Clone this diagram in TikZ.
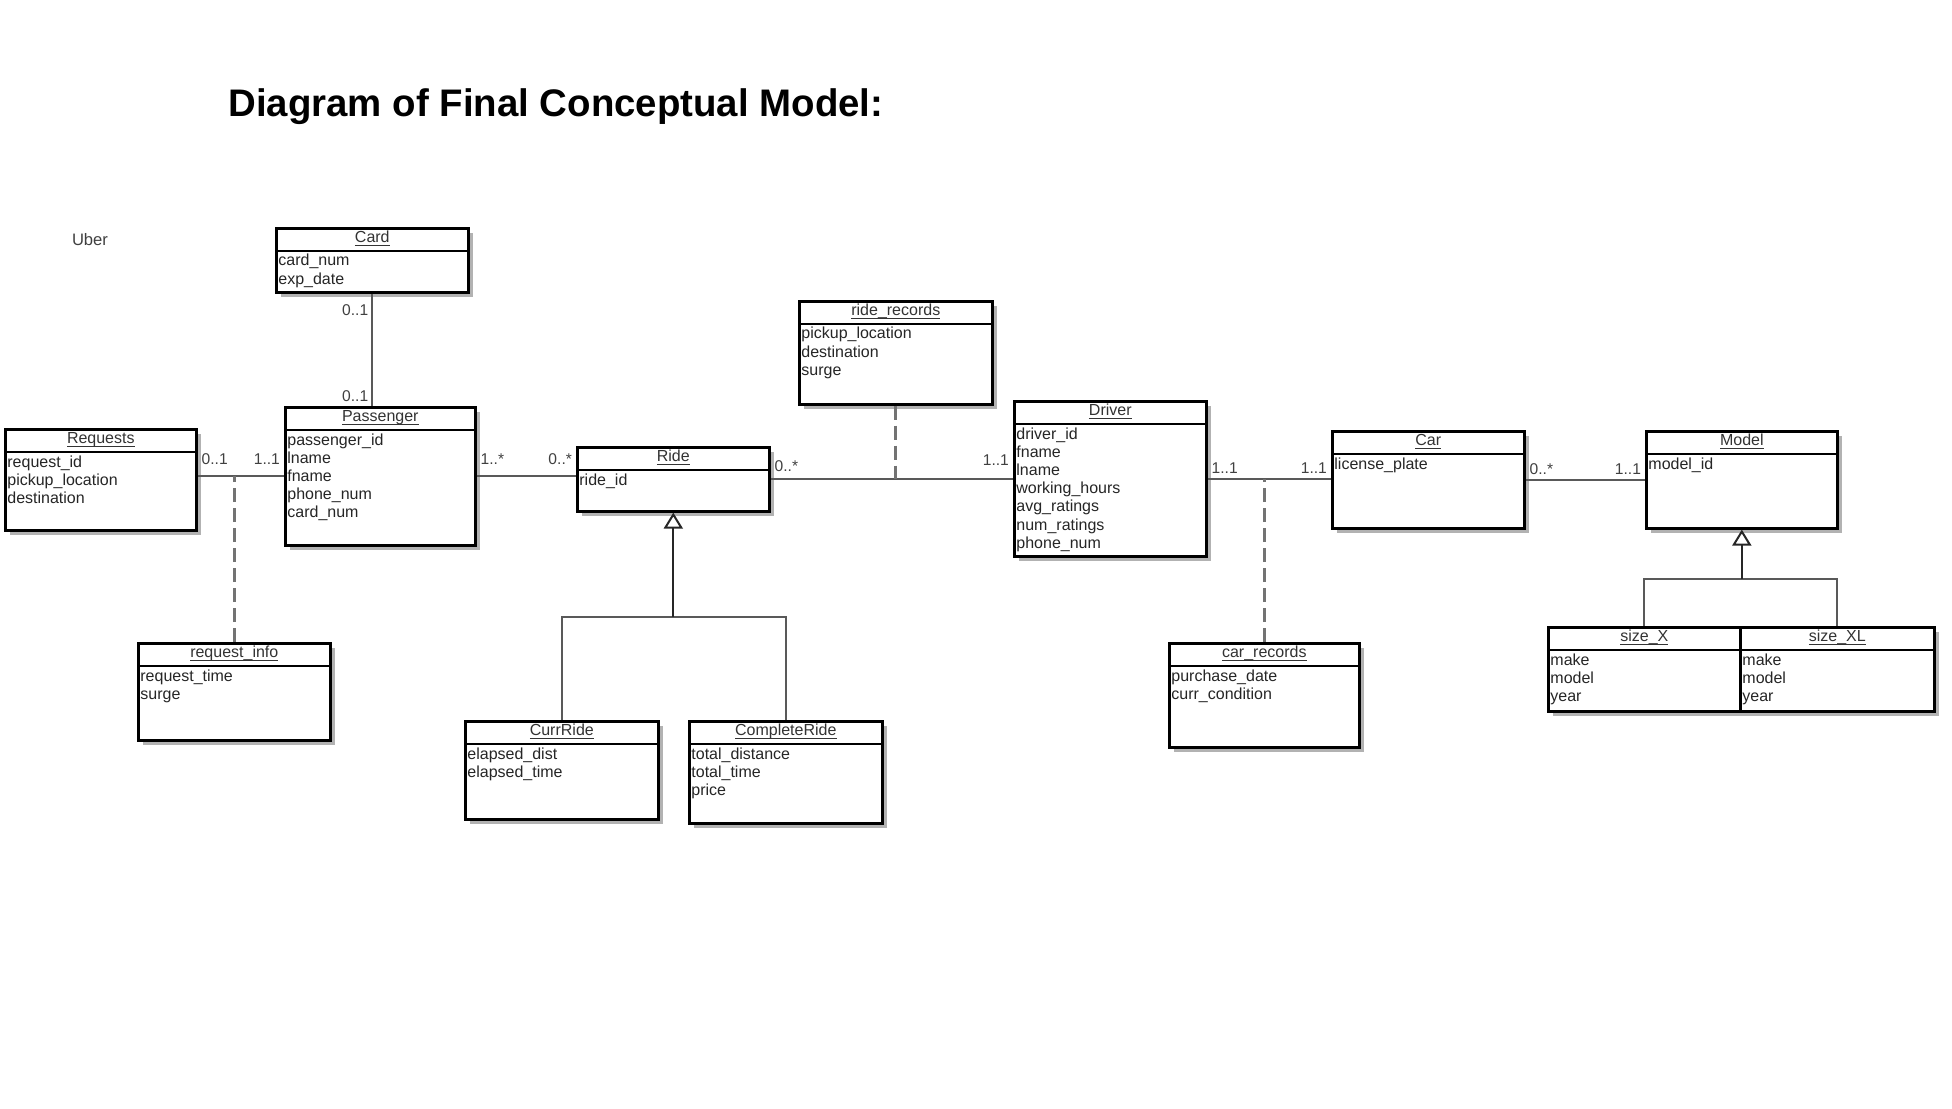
\documentclass[tikz,border=0pt]{standalone}
\usepackage{fontspec}
\setmainfont{Liberation Sans}
\usetikzlibrary{positioning,shadows,arrows.meta}
\newcommand\ClassBox[7]{%
    \node[classbox, minimum width=#4*0.5pt, minimum height=#5*0.5pt] (#1) at (#2,#3) {};
    \draw[headline] ([yshift=-12pt]#1.north west) -- ([yshift=-12pt]#1.north east);
    \node[classname] at ([yshift=-6pt]#1.north) {\underline{\smash{#6}}\vphantom{gd}};
    \node[classattr] at ([yshift=-12pt]#1.north west) {#7};
}
\begin{document}
\begin{tikzpicture}[x=0.5pt, y=-0.5pt,
    classbox/.style={draw, line width=1.3pt, anchor=north west, inner sep=0pt, fill=white,
        drop shadow={shadow xshift=2.5pt, shadow yshift=-2.5pt, fill=black!30, opacity=1}},
    headline/.style={line width=1pt},
    classname/.style={font=\fontsize{8}{9}\selectfont, text=black!80},
    classattr/.style={anchor=north west, align=left, inner xsep=1.5pt, inner ysep=1.5pt,
        font=\fontsize{8}{9.1}\selectfont, text=black!85},
    mult/.style={font=\fontsize{7.8}{9}\selectfont, text=black!75, inner sep=1.5pt},
    assoc/.style={draw=black!65, line width=1.1pt},
    assocdash/.style={draw=black!55, line width=1.5pt, dash pattern=on 7pt off 3pt},
    genline/.style={draw=black!65, line width=1pt}]
    \useasboundingbox (0,0) rectangle (1952,1108);
    \node[anchor=west, inner sep=0pt, font=\fontsize{19.2}{22}\selectfont\bfseries] (Title) at (228,107) {Diagram of Final Conceptual Model:};
    \node[font=\fontsize{8.3}{10}\selectfont, text=black!75] (Uber) at (90,240) {Uber};

    % passenger side
    \ClassBox{Card}{275}{227}{192}{64}{Card}{card\_num\\exp\_date}
    \ClassBox{Requests}{4}{428}{191}{101}{Requests}{request\_id\\pickup\_location\\destination}
    \ClassBox{Passenger}{284}{406}{190}{138}{Passenger}{passenger\_id\\lname\\fname\\phone\_num\\card\_num}
    \ClassBox{RequestInfo}{137}{642}{192}{97}{request\_info}{request\_time\\surge}

    % rides
    \ClassBox{RideRecords}{798}{300}{193}{103}{ride\_records}{pickup\_location\\destination\\surge}
    \ClassBox{Ride}{576}{446}{192}{64}{Ride}{ride\_id}
    \ClassBox{CurrRide}{464}{720}{193}{98}{CurrRide}{elapsed\_dist\\elapsed\_time}
    \ClassBox{CompleteRide}{688}{720}{193}{102}{CompleteRide}{total\_distance\\total\_time\\price}

    % driver and car
    \ClassBox{Driver}{1013}{400}{192}{155}{Driver}{driver\_id\\fname\\lname\\working\_hours\\avg\_ratings\\num\_ratings\\phone\_num}
    \ClassBox{Car}{1331}{430}{192}{97}{Car}{license\_plate}
    \ClassBox{CarRecords}{1168}{642}{190}{104}{car\_records}{purchase\_date\\curr\_condition}
    \ClassBox{Model}{1645}{430}{191}{97}{Model}{model\_id}
    \ClassBox{SizeX}{1547}{626}{192}{84}{size\_X}{make\\model\\year}
    \ClassBox{SizeXL}{1739}{626}{194}{84}{size\_XL}{make\\model\\year}

    % associations
    \draw[assoc] (Card.south) -- (Card.south |- Passenger.north)
        node[mult, pos=0, anchor=north east, yshift=-3.5pt] {0..1}
        node[mult, pos=1, anchor=south east] {0..1};
    \draw[assoc] (Requests.east |- Passenger.west) -- (Passenger.west)
        node[mult, pos=0, anchor=south west, yshift=4pt] {0..1}
        node[mult, pos=1, anchor=south east, yshift=4pt] {1..1};
    \draw[assoc] (Passenger.east) -- (Passenger.east -| Ride.west)
        node[mult, pos=0, anchor=south west, yshift=4pt] {1..*}
        node[mult, pos=1, anchor=south east, yshift=4pt] {0..*};
    \draw[assoc] (Ride.east) -- (Ride.east -| Driver.west)
        node[mult, pos=0, anchor=south west, yshift=2pt] {0..*}
        node[mult, pos=1, anchor=south east, yshift=5pt] {1..1};
    \draw[assoc] (Driver.east) -- (Driver.east -| Car.west)
        node[mult, pos=0, anchor=south west, yshift=0.5pt] {1..1}
        node[mult, pos=1, anchor=south east, yshift=0.5pt] {1..1};
    \draw[assoc] (Car.east) -- (Car.east -| Model.west)
        node[mult, pos=0, anchor=south west, yshift=0.5pt] {0..*}
        node[mult, pos=1, anchor=south east, yshift=0.5pt] {1..1};

    % association classes
    \draw[assocdash] (RequestInfo.north) -- (RequestInfo.north |- Passenger.west);
    \draw[assocdash] (RideRecords.south) -- (RideRecords.south |- Ride.east);
    \draw[assocdash] (CarRecords.north) -- (CarRecords.north |- Driver.east);

    % generalizations
    \coordinate[below=52pt of Ride.south] (RideJoin);
    \draw[genline] (CurrRide.north) |- (RideJoin) -| (CompleteRide.north);
    \draw[genline, draw=black!85, -{Triangle[open, width=9.5pt, length=8pt]}] (RideJoin) -- (Ride.south);
    \coordinate[below=24.5pt of Model.south] (ModelJoin);
    \draw[genline] (SizeX.north) |- (ModelJoin) -| (SizeXL.north);
    \draw[genline, draw=black!85, -{Triangle[open, width=9.5pt, length=8pt]}] (ModelJoin) -- (Model.south);
\end{tikzpicture}
\end{document}
